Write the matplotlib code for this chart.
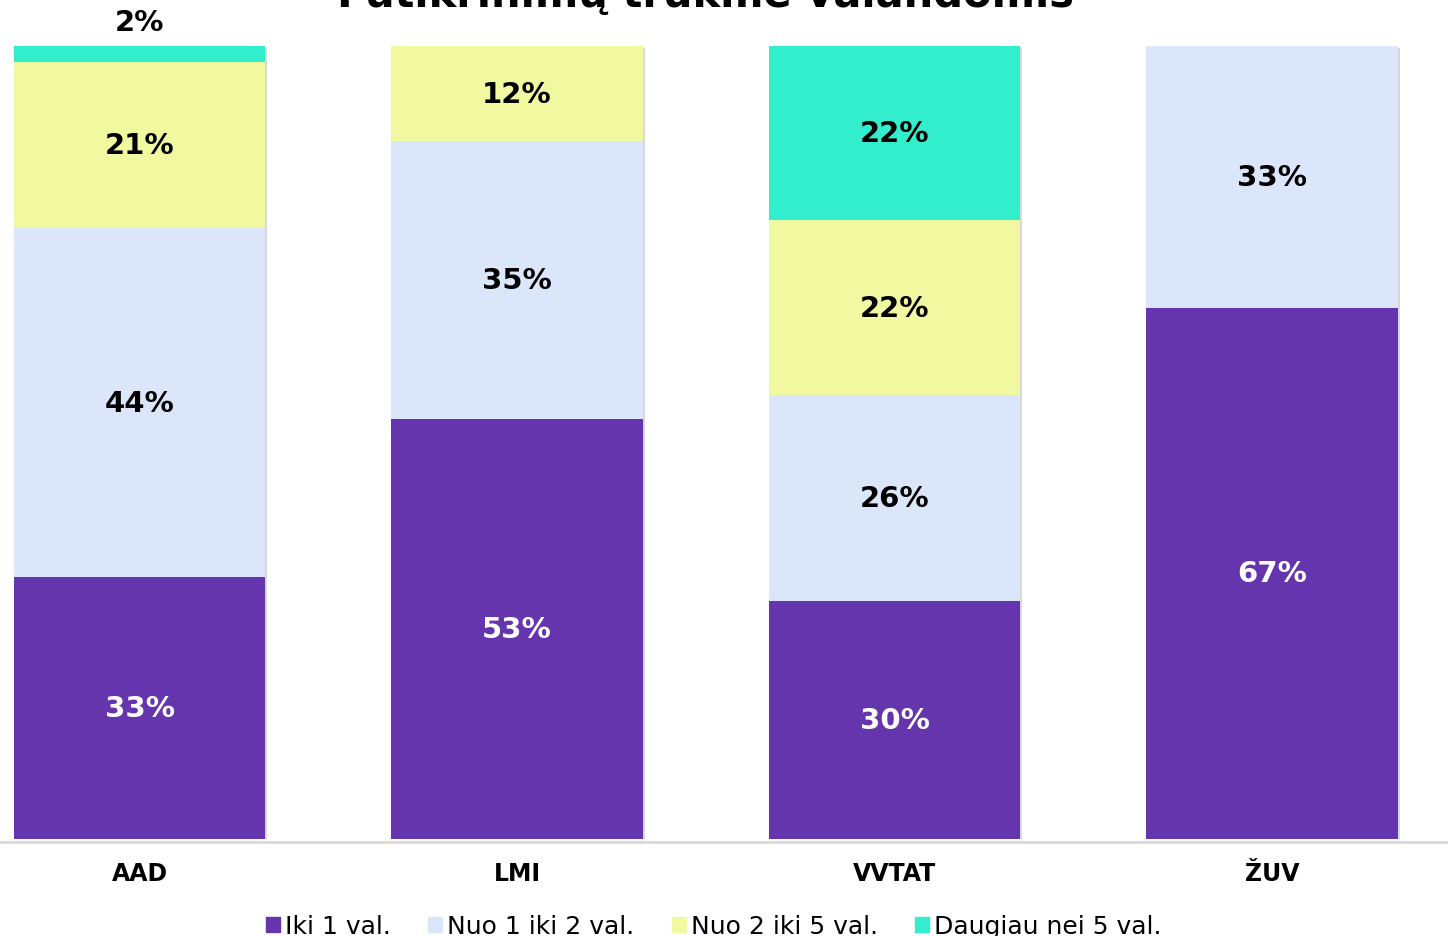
import matplotlib
matplotlib.use("Agg")
import matplotlib.pyplot as plt
import matplotlib.patches as mpatches
import numpy as np

categories = ["AAD", "LMI", "VVTAT", "ŽUV"]
series_names = ["Iki 1 val.", "Nuo 1 iki 2 val.", "Nuo 2 iki 5 val.", "Daugiau nei 5 val."]
iki_1 = [33, 53, 30, 67]
nuo_1_iki_2 = [44, 35, 26, 33]
nuo_2_iki_5 = [21, 12, 22, 0]
daugiau_5 = [2, 0, 22, 0]
colors = ["#6435AC", "#DCE6FA", "#F0F8A0", "#33EECC"]
text_colors = ["white", "black", "black", "black"]

series = [iki_1, nuo_1_iki_2, nuo_2_iki_5, daugiau_5]

fig = plt.figure(figsize=(14.48, 9.37), dpi=100)
ax = fig.add_axes([0, 97 / 937, 1, 793 / 937])

x = np.arange(len(categories))
width = 0.665
bottom = np.zeros(len(categories))
for vals, col, tc in zip(series, colors, text_colors):
    vals = np.array(vals, dtype=float)
    ax.bar(x, vals, width, bottom=bottom, color=col, edgecolor="none", zorder=2)
    for i in range(len(categories)):
        if vals[i] > 0:
            mid = bottom[i] + vals[i] / 2
            if vals[i] < 5:
                # too small to fit inside, put above the bar
                ax.text(x[i], 100 + 3.0, f"{int(vals[i])}%", ha="center", va="center",
                        fontsize=21, fontweight="bold", color="black", clip_on=False)
            else:
                ax.text(x[i], mid, f"{int(vals[i])}%", ha="center", va="center",
                        fontsize=21, fontweight="bold", color=tc)
    bottom += vals

# faint shadows at bar edges
for i in range(len(categories)):
    ax.bar(x[i] + 0.006, 100, width, bottom=-0.25, color="#d8d8d8", edgecolor="none", zorder=1)

ax.set_xlim(-139.5 / 377.5, (1448 - 139.5) / 377.5)
ax.set_ylim(0, 100)
for s in ["top", "left", "right"]:
    ax.spines[s].set_visible(False)
ax.spines["bottom"].set_color("#d9d9d9")
ax.spines["bottom"].set_linewidth(2)
ax.spines["bottom"].set_position(("outward", 2))
ax.set_yticks([])
ax.set_xticks(x)
ax.set_xticklabels(categories, fontsize=17, fontweight="bold")
ax.tick_params(axis="x", length=0, pad=14)

fig.text(0.487, 1 - 7 / 937, "Patikrinimų trukmė valandomis", ha="center", va="baseline",
         fontsize=30, fontweight="bold")

handles = [mpatches.Patch(color=c, label=n) for c, n in zip(colors, series_names)]
fig.legend(handles=handles, loc="center", bbox_to_anchor=(0.493, 1 - 927 / 937), ncol=4,
           frameon=False, fontsize=18, handlelength=0.55, handleheight=0.55,
           handletextpad=0.2, columnspacing=1.5)

fig.savefig("out.png", dpi=100)
